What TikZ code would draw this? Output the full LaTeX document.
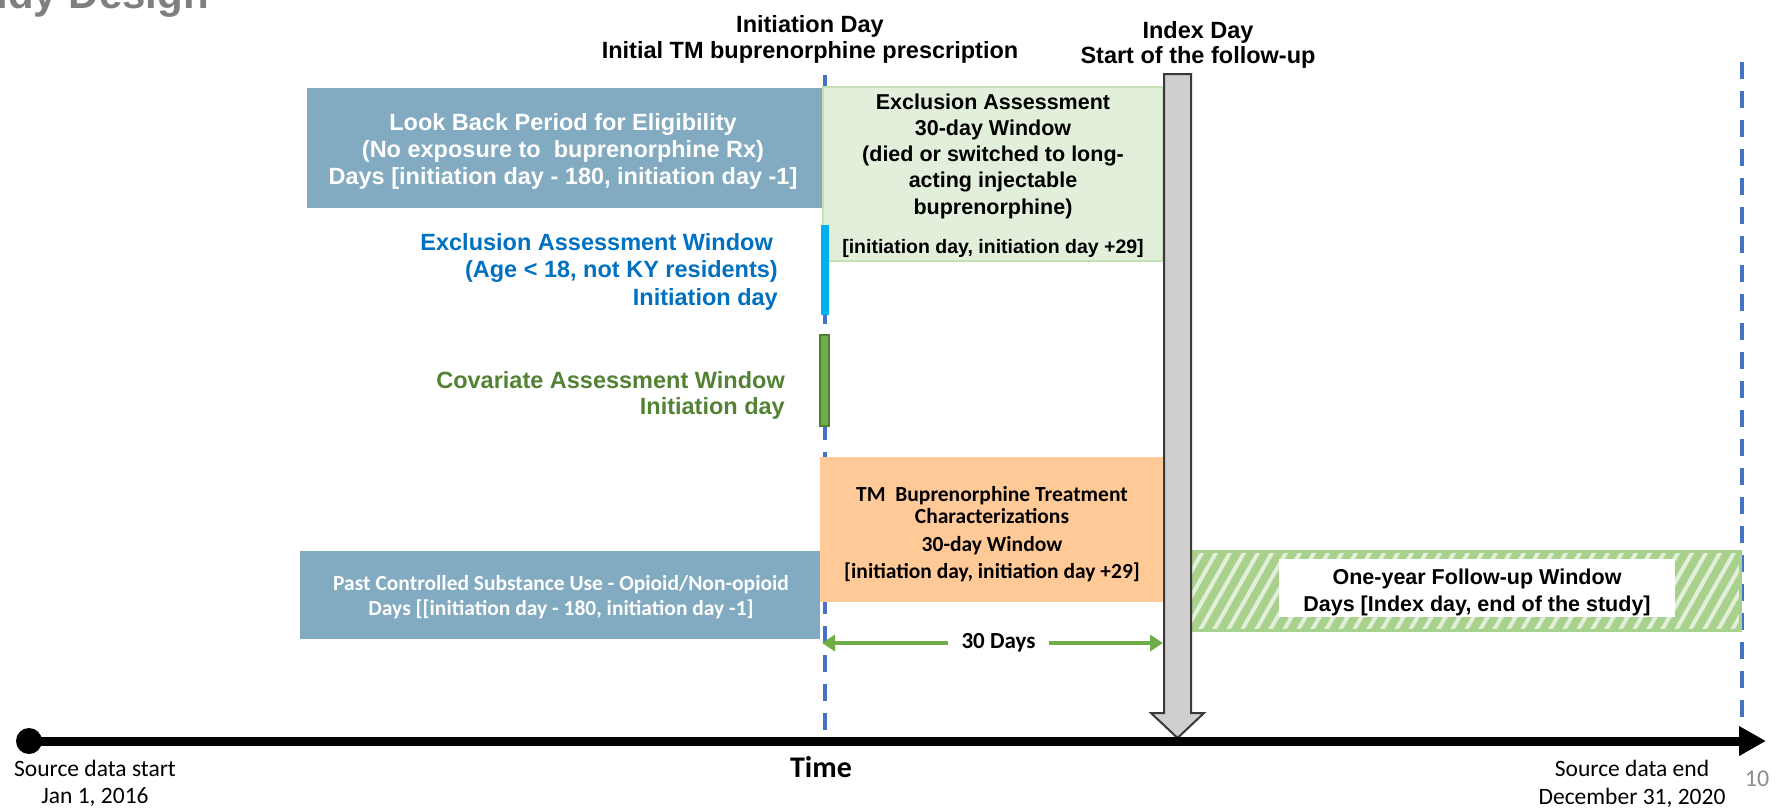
\documentclass[tikz,border=0pt]{standalone}
\usepackage{fontspec}
\setmainfont{Liberation Sans}
\newfontfamily\calfont{Carlito}
\usetikzlibrary{arrows.meta}
\definecolor{boxblue}{HTML}{82AAC0}
\definecolor{exgreen}{HTML}{E2EFDA}
\definecolor{exgreenb}{HTML}{C5E0B4}
\definecolor{orangebox}{HTML}{FFCA97}
\definecolor{txtblue}{HTML}{0070C0}
\definecolor{cyanbar}{HTML}{00B0F0}
\definecolor{txtgreen}{HTML}{548235}
\definecolor{bargreen}{HTML}{70AD47}
\definecolor{bargreenb}{HTML}{507E32}
\definecolor{dashblue}{HTML}{4472C4}
\definecolor{arrowgray}{HTML}{D0CECE}
\definecolor{arrowedge}{HTML}{3B3838}
\definecolor{hatchgreen}{HTML}{A9D18E}
\definecolor{hatchlight}{HTML}{E2F0D9}
\definecolor{titlegray}{HTML}{7F7F7F}
\definecolor{pagegray}{HTML}{8C8C8C}
\newcommand{\fsz}[2]{\fontsize{#1}{#2}\selectfont}
\newcommand{\mlc}[1]{\begin{tabular}[t]{@{}c@{}}#1\end{tabular}}
\newcommand{\mlr}[1]{\begin{tabular}[t]{@{}r@{}}#1\end{tabular}}
\begin{document}
\begin{tikzpicture}[x=1pt,y=-1pt,
  boxnode/.style={anchor=north west, inner sep=0pt, outer sep=0pt},
  dashline/.style={draw=dashblue, line width=4pt, dash pattern=on 17pt off 12pt},
  hdr/.style={anchor=base, font=\fsz{23.5}{26}\bfseries},
  txtbase/.style={anchor=base},
  greenarrow/.style={draw=bargreen, line width=4pt, {Triangle[length=13pt,width=16pt]}-{Triangle[length=13pt,width=16pt]}},
  daylbl/.style={fill=white, inner xsep=14pt, inner ysep=3pt, xshift=6pt, font=\calfont\fsz{23}{27}\bfseries}
]
\useasboundingbox (0,0) rectangle (1783,809);
\clip (0,0) rectangle (1783,809);

% dashed reference lines
\coordinate (initTop) at (825,75);
\coordinate (initBot) at (825,733);
\coordinate (endTop) at (1742,62);
\coordinate (endBot) at (1742,742);
\draw[dashline] (initTop) -- (initBot);
\draw[dashline] (endTop) -- (endBot);

% title (cut off at the top)
\node[anchor=base east, inner sep=0pt, text=titlegray, font=\fsz{42}{48}\bfseries] (title) at (209,8) {Study Design};

% headers
\node[hdr] (initlbl) at (810,32) {\mlc{Initiation Day\\Initial TM buprenorphine prescription}};
\node[hdr, font=\fsz{23.5}{25}\bfseries] (indexlbl) at (1198,38) {\mlc{Index Day\\Start of the follow-up}};

% look back
\node[boxnode, fill=boxblue, minimum width=515pt, minimum height=120pt] (lookback) at (307,88) {};
\node[txtbase, text=white, font=\fsz{23.5}{27}\bfseries] (lookbacktxt) at (563,130) {\mlc{Look Back Period for Eligibility\\(No exposure to\ \ buprenorphine Rx)\\Days [initiation day - 180, initiation day -1]}};

% exclusion 30-day box
\node[boxnode, fill=exgreen, draw=exgreenb, line width=2pt, minimum width=340pt, minimum height=174pt] (exbox) at (823,87) {};
\node[txtbase, font=\fsz{21.5}{26.3}\bfseries] (extxt) at (993,109) {\mlc{Exclusion Assessment\\30-day Window\\(died or switched to long-\\acting injectable\\buprenorphine)}};
\node[txtbase, font=\fsz{19.5}{24}\bfseries] (exdays) at (993,253) {[initiation day, initiation day +29]};

% exclusion window (initiation day)
\node[anchor=base east, inner sep=0pt, text=txtblue, font=\fsz{23.5}{27.5}\bfseries] (exwin) at (778,250) {\mlr{Exclusion Assessment Window\hspace*{5pt}\\(Age < 18, not KY residents)\\Initiation day}};
\node[boxnode, fill=cyanbar, minimum width=8pt, minimum height=90pt] (cyanbar) at (821,225) {};

% covariate window
\node[anchor=base east, inner sep=0pt, text=txtgreen, font=\fsz{23.5}{26}\bfseries] (covwin) at (785,388) {\mlr{Covariate Assessment Window\\Initiation day}};
\node[boxnode, fill=bargreen, draw=bargreenb, line width=1.5pt, minimum width=9pt, minimum height=91pt] (covbar) at (820,335) {};

% treatment characterization
\node[boxnode, fill=orangebox, minimum width=344pt, minimum height=145pt] (tmbox) at (820,457) {};
\node[txtbase, font=\calfont\fsz{21.5}{22}\bfseries] (tmtxt) at (992,501) {\mlc{TM\ \ Buprenorphine Treatment\\Characterizations\\[6pt]30-day Window\\[5pt]{[}initiation day, initiation day +29]}};

% past controlled substance use
\node[boxnode, fill=boxblue, minimum width=520pt, minimum height=88pt] (pastbox) at (300,551) {};
\node[txtbase, text=white, font=\calfont\fsz{21.5}{25}\bfseries] (pasttxt) at (561,590) {\mlc{Past Controlled Substance Use - Opioid/Non-opioid\\Days [[initiation day - 180, initiation day -1]}};

% 30 days arrow
\coordinate (d30a) at (822,643);
\coordinate (d30b) at (1163,643);
\draw[greenarrow] (d30a) -- node[daylbl] (d30lbl) {30 Days} (d30b);

% follow-up window (hatched)
\node[boxnode, fill=hatchgreen, minimum width=552pt, minimum height=79pt] (hatch) at (1188,551) {};
\begin{scope}
\clip (1188,551) rectangle (1740,630);
\foreach \hx in {1130,1144,...,1740} \draw[hatchlight, line width=4pt] (\hx,630) -- ++(45,-79);
\end{scope}
\draw[hatchgreen, line width=3pt] (hatch.north west) rectangle (hatch.south east);
\node[boxnode, fill=white, minimum width=396pt, minimum height=58pt] (fupbox) at (1279,559) {};
\node[txtbase, font=\fsz{21.5}{27}\bfseries] (fuptxt) at (1477,584) {\mlc{One-year Follow-up Window\\Days [Index day, end of the study]}};

% index day arrow
\draw[fill=arrowgray, draw=arrowedge, line width=2pt, line join=miter] (1164,74) -- (1191,74) -- (1191,713) -- (1204,713) -- (1177.5,738) -- (1151,713) -- (1164,713) -- cycle;

% timeline
\node[circle, fill=black, minimum size=26pt, inner sep=0pt] (tlstart) at (29,741) {};
\coordinate (tlend) at (1766,741);
\draw[line width=9pt, -{Triangle[length=27pt,width=28pt]}] (tlstart.center) -- (tlend);

% bottom labels
\node[txtbase, font=\calfont\fsz{23.5}{27}] (srcstart) at (95,776) {\mlc{Source data start\\Jan 1, 2016}};
\node[txtbase, font=\calfont\fsz{30}{34}\bfseries] (timelbl) at (821,777) {Time};
\node[txtbase, font=\calfont\fsz{23.5}{28}] (srcend) at (1632,776) {\mlc{Source data end\\December 31, 2020}};
\node[txtbase, text=pagegray, font=\calfont\fsz{24}{28}] (pagenum) at (1757,786) {10};
\end{tikzpicture}
\end{document}
